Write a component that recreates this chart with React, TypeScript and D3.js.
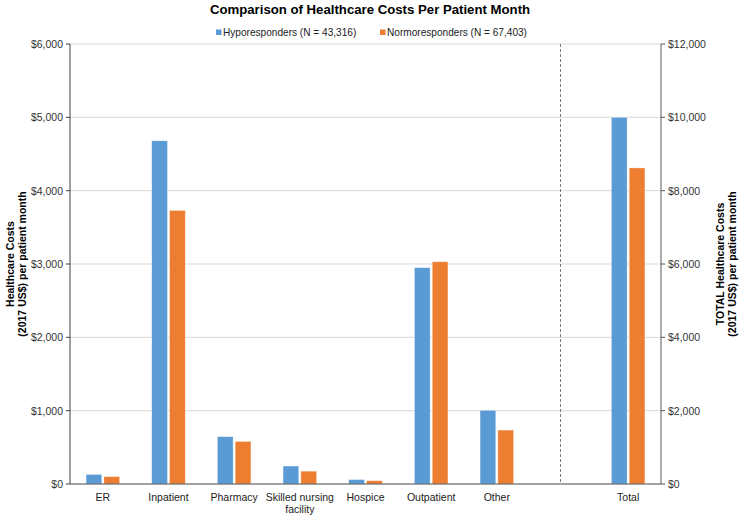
import React from "react";
import * as d3 from "d3";

const categories = ["ER", "Inpatient", "Pharmacy", "Skilled nursing facility", "Hospice", "Outpatient", "Other", "", "Total"];
const seriesNames = ["Hyporesponders (N = 43,316)", "Normoresponders (N = 67,403)"];
const seriesColors = ["#5b9bd5", "#ed7d31"];
const hypoValues = [130, 4680, 645, 245, 60, 2950, 1005, null, 10000];
const normoValues = [100, 3730, 580, 175, 45, 3030, 735, null, 8620];
const leftTicks = [0, 1000, 2000, 3000, 4000, 5000, 6000];
const rightTicks = [0, 2000, 4000, 6000, 8000, 10000, 12000];
const xLabelLines: Record<string, string[]> = { "Skilled nursing facility": ["Skilled nursing", "facility"] };

const W = 740, H = 515;
const M = { left: 70, right: 79, top: 44, bottom: 31 };
const font = "Liberation Sans, Arial, sans-serif";

export default function App() {
  const x = d3.scaleBand<string>().domain(categories.map((c, i) => c || `blank${i}`)).range([M.left, W - M.right]).padding(0);
  const yL = d3.scaleLinear().domain([0, 6000]).range([H - M.bottom, M.top]);
  const yR = d3.scaleLinear().domain([0, 12000]).range([H - M.bottom, M.top]);
  const groupW = 33.5;
  const inner = d3.scaleBand<number>().domain([0, 1]).range([0, groupW]).paddingInner(0.12);
  const fmt = (v: number) => "$" + d3.format(",")(v);
  const keys = categories.map((c, i) => c || `blank${i}`);
  const series = [hypoValues, normoValues];
  const y0 = H - M.bottom;
  const blankKey = keys[7];
  const dashX = (x(blankKey) as number) + x.bandwidth() / 2 - 2;

  return (
    <svg width={W} height={H} style={{ display: "block", position: "absolute", left: 0, top: 0 }} fontFamily={font}>
      <rect width={W} height={H} fill="#fff" />
      <text x={370} y={14} textAnchor="middle" fontSize={13.2} fontWeight="bold" fill="#000">
        Comparison of Healthcare Costs Per Patient Month
      </text>
      {/* legend */}
      {(() => {
        const items = [{ x: 216, i: 0 }, { x: 380, i: 1 }];
        return items.map(({ x: lx, i }) => (
          <g key={i}>
            <rect x={lx} y={29.5} width={5.5} height={5.5} fill={seriesColors[i]} />
            <text x={lx + 7} y={36} fontSize={10.1} fill="#222">{seriesNames[i]}</text>
          </g>
        ));
      })()}
      {/* gridlines */}
      {leftTicks.map((t) => (
        <line key={t} x1={M.left} x2={W - M.right} y1={yL(t)} y2={yL(t)} stroke="#d9d9d9" strokeWidth={1} />
      ))}
      {/* dashed separator */}
      <line x1={dashX} x2={dashX} y1={M.top} y2={y0} stroke="#595959" strokeWidth={0.8} strokeDasharray="3,2" />
      {/* bars */}
      {keys.map((k, ci) =>
        series.map((vals, si) => {
          const v = vals[ci];
          if (v == null) return null;
          const scale = categories[ci] === "Total" ? yR : yL;
          const bx = (x(k) as number) + (x.bandwidth() - groupW) / 2 + (inner(si) as number);
          return (
            <rect key={`${k}-${si}`} x={bx} y={scale(v)} width={inner.bandwidth()} height={y0 - scale(v)}
              fill={seriesColors[si]} stroke="#fff" strokeOpacity={0.5} strokeWidth={0.6} />
          );
        })
      )}
      {/* axes */}
      <line x1={M.left} x2={M.left} y1={M.top} y2={y0} stroke="#404040" strokeWidth={1} />
      <line x1={W - M.right} x2={W - M.right} y1={M.top} y2={y0} stroke="#595959" strokeWidth={1} />
      <line x1={M.left} x2={W - M.right} y1={y0} y2={y0} stroke="#595959" strokeWidth={1} />
      {leftTicks.map((t) => (
        <g key={t}>
          <line x1={M.left - 4} x2={M.left} y1={yL(t)} y2={yL(t)} stroke="#404040" />
          <text x={M.left - 7} y={yL(t) + 4} textAnchor="end" fontSize={10.5} fill="#333">{fmt(t)}</text>
        </g>
      ))}
      {rightTicks.map((t) => (
        <g key={t}>
          <line x1={W - M.right} x2={W - M.right + 4} y1={yR(t)} y2={yR(t)} stroke="#595959" />
          <text x={W - M.right + 7} y={yR(t) + 4} textAnchor="start" fontSize={10.5} fill="#333">{fmt(t)}</text>
        </g>
      ))}
      {/* x labels */}
      {keys.map((k, ci) => {
        const c = categories[ci];
        if (!c) return null;
        const lines = xLabelLines[c] || [c];
        const cx = (x(k) as number) + x.bandwidth() / 2;
        return (
          <text key={k} x={cx} y={501} textAnchor="middle" fontSize={10.5} fill="#222">
            {lines.map((l, li) => (
              <tspan key={li} x={cx} dy={li === 0 ? 0 : 11.5}>{l}</tspan>
            ))}
          </text>
        );
      })}
      {/* axis titles */}
      <text transform={`translate(14,${(M.top + y0) / 2}) rotate(-90)`} textAnchor="middle" fontSize={10.5} fontWeight="bold" fill="#000">
        <tspan x={0} dy={0}>Healthcare Costs</tspan>
        <tspan x={0} dy={11.5}>(2017 US$) per patient month</tspan>
      </text>
      <text transform={`translate(724,${(M.top + y0) / 2}) rotate(-90)`} textAnchor="middle" fontSize={10.5} fontWeight="bold" fill="#000">
        <tspan x={0} dy={0}>TOTAL Healthcare Costs</tspan>
        <tspan x={0} dy={11.5}>(2017 US$) per patient month</tspan>
      </text>
    </svg>
  );
}
